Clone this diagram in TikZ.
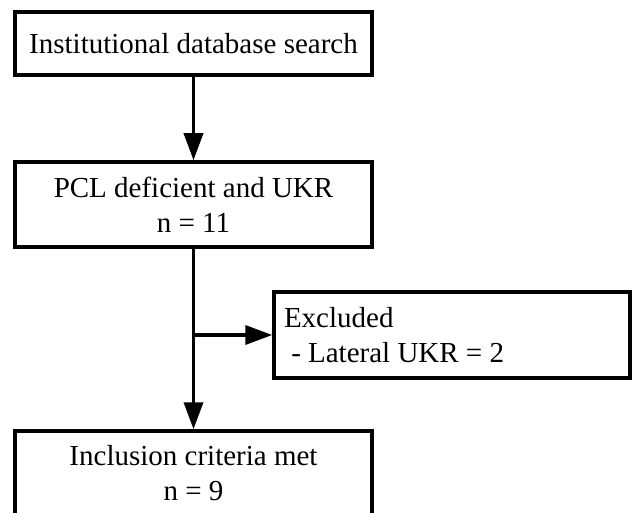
\documentclass[tikz,border=0pt]{standalone}
\usepackage{fontspec}
\setmainfont{Liberation Serif}
\usetikzlibrary{arrows.meta,positioning}
\tikzset{
  flowbox/.style={draw, line width=3.5pt, minimum width=357pt, inner sep=0pt,
    align=center, font=\fontsize{29}{35}\selectfont},
  flowarrow/.style={line width=3.5pt, -{Triangle[length=27pt,width=19pt]}}
}
\begin{document}
\begin{tikzpicture}[x=1pt,y=1pt]
\useasboundingbox (0,0) rectangle (632,-513);
\node[flowbox, minimum height=63pt] (search) at (193.5,-43.5) {Institutional database search};
\node[flowbox, minimum height=85pt] (pcl) at (193.5,-204.5) {PCL deficient and UKR\\n = 11};
\node[flowbox, minimum height=86pt, minimum width=356pt, align=flush left, text width=336pt, inner xsep=10pt] (excl) at (452,-335) {Excluded\\\ - Lateral UKR = 2};
\node[flowbox, minimum height=85pt] (incl) at (193.5,-473.5) {Inclusion criteria met\\n = 9};
\coordinate (split) at (pcl.south |- excl.west);
\draw[flowarrow] (search) -- (pcl);
\draw[flowarrow] (pcl) -- (incl);
\draw[flowarrow] (split) -- (excl);
\end{tikzpicture}
\end{document}
